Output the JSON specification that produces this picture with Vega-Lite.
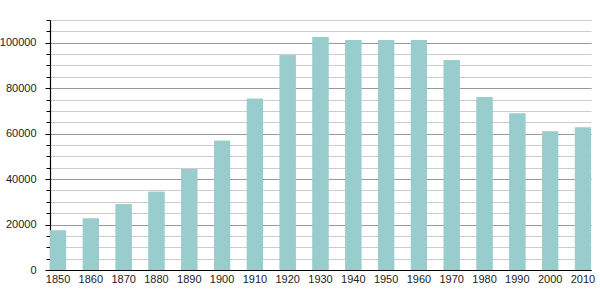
{
  "$schema": "https://vega.github.io/schema/vega-lite/v6.json",
  "width": 541,
  "height": 250,
  "autosize": {"type": "none"},
  "padding": {"left": 50, "top": 20, "right": 9, "bottom": 30},
  "config": {"view": {"stroke": null}, "font": "Liberation Sans"},
  "data": {"values": [
    {"year": "1850", "population": 17400},
    {"year": "1860", "population": 22700},
    {"year": "1870", "population": 28900},
    {"year": "1880", "population": 34400},
    {"year": "1890", "population": 44400},
    {"year": "1900", "population": 56900},
    {"year": "1910", "population": 75300},
    {"year": "1920", "population": 94500},
    {"year": "1930", "population": 102500},
    {"year": "1940", "population": 101200},
    {"year": "1950", "population": 101200},
    {"year": "1960", "population": 101200},
    {"year": "1970", "population": 92300},
    {"year": "1980", "population": 76000},
    {"year": "1990", "population": 68900},
    {"year": "2000", "population": 60900},
    {"year": "2010", "population": 62700}
  ]},
  "layer": [
    {
      "mark": {"type": "bar", "color": "#99cccc"},
      "encoding": {
        "x": {"field": "year", "type": "ordinal", "scale": {"paddingInner": 0.51, "paddingOuter": 0},
          "axis": {"title": null, "labelAngle": 0, "tickSize": 0, "ticks": false, "domainColor": "#000", "domainWidth": 1.2, "labelFontSize": 11, "labelColor": "#222", "labelPadding": 3}},
        "y": {"field": "population", "type": "quantitative", "scale": {"domain": [0, 110000], "nice": false},
          "axis": {"orient": "left", "title": null, "values": [0,5000,10000,15000,20000,25000,30000,35000,40000,45000,50000,55000,60000,65000,70000,75000,80000,85000,90000,95000,100000,105000,110000],
            "grid": true, "gridColor": "#cccccc", "gridOpacity": 1, "labels": false, "ticks": true, "tickSize": 4, "tickColor": "#000", "domain": true, "domainColor": "#000", "domainWidth": 1.2}}
      }
    },
    {
      "mark": {"type": "bar", "color": "#99cccc"},
      "encoding": {
        "x": {"field": "year", "type": "ordinal"},
        "y": {"field": "population", "type": "quantitative",
          "axis": {"orient": "left", "title": null, "format": "d", "values": [0,20000,40000,60000,80000,100000],
            "grid": true, "gridColor": "#999999", "gridOpacity": 1, "labels": true, "labelFontSize": 11, "labelColor": "#222", "ticks": true, "tickSize": 5, "tickColor": "#000", "labelPadding": 9, "domain": false}}
      }
    }
  ],
  "resolve": {"axis": {"y": "independent"}}
}
